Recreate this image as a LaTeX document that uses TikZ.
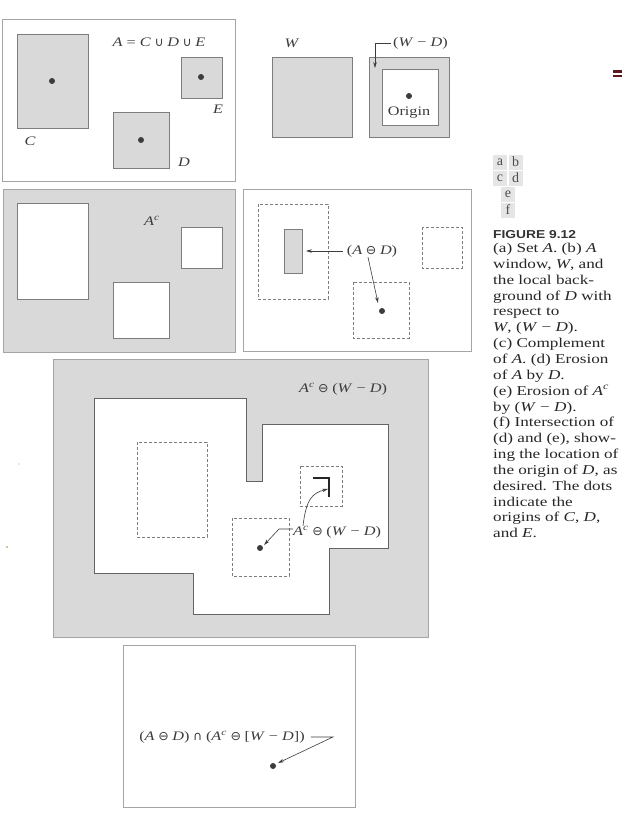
\documentclass[tikz,border=0pt]{standalone}
\usepackage{fontspec}
\setmainfont{Liberation Serif}
\newfontfamily\lblfont[FakeStretch=1.25]{Liberation Serif}
\newfontfamily\capfont[FakeStretch=1.27]{Liberation Serif}
\newfontfamily\headfont[FakeStretch=1.2]{Liberation Sans}
\newfontfamily\symfont{DejaVu Sans}
\usetikzlibrary{arrows.meta}
\definecolor{shade}{RGB}{217,217,217}
\definecolor{edge}{RGB}{125,125,125}
\definecolor{frame}{RGB}{165,165,165}
\definecolor{ink}{RGB}{60,60,60}
\definecolor{maroon}{RGB}{95,25,30}
\newcommand\mi[1]{\textit{#1}}
\newcommand\opsym[1]{\hspace{0.28em}{\symfont\fontsize{12.5}{12}\selectfont #1}\hspace{0.28em}}
\tikzset{
  panel/.style={draw=frame, line width=0.9pt},
  setbox/.style={draw=edge, line width=0.8pt},
  dashbox/.style={draw=edge, line width=0.7pt, dash pattern=on 3pt off 2pt},
  lbl/.style={font=\lblfont\fontsize{13}{15}\selectfont, text=ink, inner sep=0pt},
  dot/.style={circle, fill=ink, inner sep=0pt, minimum size=6pt},
  lead/.style={draw=ink, line width=0.6pt},
  leadarrow/.style={lead, -{Stealth[length=6pt,width=3.5pt]}},
  cell/.style={fill=gray!20, minimum width=14pt, minimum height=15pt, inner sep=0pt,
    font=\fontsize{14}{14}\selectfont, text=gray!60!black},
  captext/.style={font=\capfont\fontsize{13.5}{15}\selectfont, text=black!85, inner sep=0pt, anchor=base west},
}
\begin{document}
\begin{tikzpicture}[x=1pt,y=-1pt]
\useasboundingbox[fill=white] (0,0) rectangle (622,820);

% ---------- panel (a)
\draw[panel] (2,19) rectangle (235,181);
\draw[setbox, fill=shade] (17,34) rectangle (88,128);
\draw[setbox, fill=shade] (181,57) rectangle (222,98);
\draw[setbox, fill=shade] (113,112) rectangle (169,168);
\node[dot] (dC) at (52,81) {};
\node[dot] (dE) at (201,77) {};
\node[dot] (dD) at (141,140) {};
\node[lbl] (lA) at (159,42) {\mi{A} = \mi{C}\opsym{∪}\mi{D}\opsym{∪}\mi{E}};
\node[lbl] (lC) at (30,141) {\mi{C}};
\node[lbl] (lE) at (218,109) {\mi{E}};
\node[lbl] (lD) at (184,162) {\mi{D}};

% ---------- panel (b)
\draw[setbox, fill=shade] (272,57) rectangle (352,137);
\draw[setbox, fill=shade] (369,57) rectangle (449,137);
\draw[setbox, fill=white] (382,69) rectangle (438,125);
\node[dot] (dO) at (409,96) {};
\node[lbl] (lO) at (409,113) {Origin};
\node[lbl] (lW) at (292,43) {\mi{W}};
\node[lbl, anchor=west] (lWD) at (393,43) {(\mi{W} − \mi{D})};
\coordinate (tWD) at (375,68);
\draw[leadarrow] ([xshift=-2pt]lWD.west) -| (tWD);

% ---------- panel (c)
\draw[panel, fill=shade] (3,189) rectangle (235,352);
\draw[setbox, fill=white] (17,203) rectangle (88,299);
\draw[setbox, fill=white] (181,227) rectangle (222,268);
\draw[setbox, fill=white] (113,282) rectangle (169,338);
\node[lbl] (lAc) at (152,221) {\mi{A}\textsuperscript{\mi{c}}};

% ---------- panel (d)
\draw[panel] (243,189) rectangle (471,351);
\draw[dashbox] (258,204) rectangle (328,299);
\draw[dashbox] (422,227) rectangle (462,268);
\draw[dashbox] (353,282) rectangle (409,338);
\draw[setbox, fill=shade] (284,229) rectangle (302,273);
\node[dot] (dd) at (382,311) {};
\node[lbl] (lAD) at (372,251) {(\mi{A}\opsym{⊖}\mi{D})};
\coordinate (tAD1) at (306,251);
\coordinate (tAD2) at (378,303);
\draw[leadarrow] ([xshift=-4pt]lAD.west) -- (tAD1);
\draw[leadarrow] ([xshift=-4pt]lAD.south) -- (tAD2);

% ---------- panel (e)
\draw[panel, fill=shade] (53,359) rectangle (428,637);
\draw[setbox, draw=edge!80!black, fill=white]
  (94,398) -- (246,398) -- (246,481) -- (262,481) -- (262,424) -- (388,424)
  -- (388,548) -- (329,548) -- (329,614) -- (193,614) -- (193,573) -- (94,573) -- cycle;
\draw[dashbox] (137,442) rectangle (207,537);
\draw[dashbox] (300,466) rectangle (342,506);
\draw[dashbox] (232,518) rectangle (289,576);
\draw[line width=2.6pt, black!85] (313,478) -- (329,478) -- (329,497);
\node[dot] (de) at (260,548) {};
\node[lbl] (lE1) at (343,389) {\mi{A}\textsuperscript{\mi{c}}\opsym{⊖}(\mi{W} − \mi{D})};
\node[lbl, anchor=west] (lE2) at (293,532) {\mi{A}\textsuperscript{\mi{c}}\opsym{⊖}(\mi{W} − \mi{D})};
\coordinate (tE1) at (264,545);
\coordinate (tE2) at (328,489);
\draw[leadarrow] ([yshift=3pt]lE2.west) -- ++(-14,0) -- (tE1);
\draw[leadarrow] ([xshift=10pt]lE2.north west) .. controls (306,500) and (312,493) .. (tE2);

% ---------- panel (f)
\draw[panel] (123,645) rectangle (355,807);
\node[lbl] (lF) at (222,737) {(\mi{A}\opsym{⊖}\mi{D})\opsym{∩}(\mi{A}\textsuperscript{\mi{c}}\opsym{⊖}[\mi{W} − \mi{D}])};
\node[dot] (df) at (273,766) {};
\coordinate (tF) at (278,763);
\draw[leadarrow] ([xshift=6pt]lF.east) -- ++(22,0) -- (tF);

% ---------- sub-figure key
\node[cell] (ka) at (500,162) {a};
\node[cell] (kb) at (515.5,162) {b};
\node[cell] (kc) at (500,178) {c};
\node[cell] (kd) at (515.5,178) {d};
\node[cell] (ke) at (508,194) {e};
\node[cell] (kf) at (508,210) {f};

% ---------- caption
\node[anchor=base west, inner sep=0pt, text=black!80,
  font=\headfont\bfseries\fontsize{11.5}{12}\selectfont] (fig) at (493,238) {FIGURE 9.12};
\foreach \t [count=\i] in {
  {(a) Set \mi{A}. (b) \mi{A}},
  {window, \mi{W}, and},
  {the local back-},
  {ground of \mi{D} with},
  {respect to},
  {\mi{W}, (\mi{W} − \mi{D}).},
  {(c) Complement},
  {of \mi{A}. (d) Erosion},
  {of \mi{A} by \mi{D}.},
  {(e) Erosion of \mi{A}\textsuperscript{\mi{c}}},
  {by (\mi{W} − \mi{D}).},
  {(f) Intersection of},
  {(d) and (e), show-},
  {ing the location of},
  {the origin of \mi{D}, as},
  {desired. The dots},
  {indicate the},
  {origins of \mi{C}, \mi{D},},
  {and \mi{E}.}}
{ \node[captext] (cap\i) at (493,{252.5+15.85*(\i-1)}) {\t}; }

% ---------- marks at the edges
\fill[maroon] (613,70) rectangle (622,72.5);
\fill[maroon] (613,74.5) rectangle (622,77);
\fill[gray!70] (19,464) circle (0.7);
\fill[orange!40!gray] (7,547) circle (0.9);
\end{tikzpicture}
\end{document}
